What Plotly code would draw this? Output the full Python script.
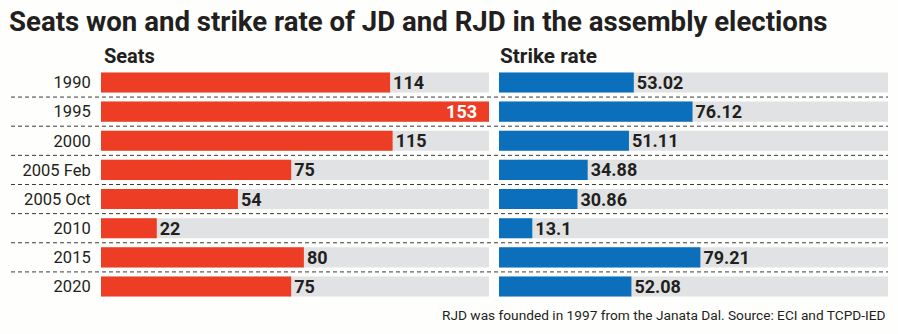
import plotly.graph_objects as go

# ---- data ----
years = ["1990", "1995", "2000", "2005 Feb", "2005 Oct", "2010", "2015", "2020"]
seats = [114, 153, 115, 75, 54, 22, 80, 75]
strike_rate = [53.02, 76.12, 51.11, 34.88, 30.86, 13.1, 79.21, 52.08]
seat_labels = ["114", "153", "115", "75", "54", "22", "80", "75"]
rate_labels = ["53.02", "76.12", "51.11", "34.88", "30.86", "13.1", "79.21", "52.08"]
SEATS_MAX = 153
RATE_MAX = 153

title = "Seats won and strike rate of JD and RJD in the assembly elections"
note = "RJD was founded in 1997 from the Janata Dal. Source: ECI and TCPD-IED"

# ---- style ----
W, H = 898, 334
FONT = "Roboto, sans-serif"
DARK = "#231f20"
RED = "#ee3d25"
BLUE = "#0b6fbc"
TRACK = "#e1e2e4"
BG = "#fefefc"
BAR_W = 0.69
ROW0 = 82.5
ROW_STEP = 29.14

top = -ROW0 / ROW_STEP
bottom = top + H / ROW_STEP

fig = go.Figure()

# background tracks
fig.add_trace(go.Bar(y=years, x=[SEATS_MAX] * len(years), orientation="h",
                     marker=dict(color=TRACK, line=dict(width=0)), width=BAR_W,
                     hoverinfo="skip", xaxis="x", yaxis="y"))
fig.add_trace(go.Bar(y=years, x=[RATE_MAX] * len(years), orientation="h",
                     marker=dict(color=TRACK, line=dict(width=0)), width=BAR_W,
                     hoverinfo="skip", xaxis="x2", yaxis="y"))

seat_pos = ["inside" if v >= SEATS_MAX else "outside" for v in seats]
seat_txt = [t + "\u00a0\u00a0" if p == "inside" else t for t, p in zip(seat_labels, seat_pos)]

fig.add_trace(go.Bar(y=years, x=seats, orientation="h",
                     marker=dict(color=RED, line=dict(width=0)), width=BAR_W,
                     text=seat_txt, textposition=seat_pos, insidetextanchor="end",
                     constraintext="none", cliponaxis=False,
                     insidetextfont=dict(family=FONT, size=18, color="white", weight="bold"),
                     outsidetextfont=dict(family=FONT, size=18, color=DARK, weight="bold"),
                     xaxis="x", yaxis="y"))
fig.add_trace(go.Bar(y=years, x=strike_rate, orientation="h",
                     marker=dict(color=BLUE, line=dict(width=0)), width=BAR_W,
                     text=rate_labels, textposition="outside",
                     constraintext="none", cliponaxis=False,
                     outsidetextfont=dict(family=FONT, size=18, color=DARK, weight="bold"),
                     xaxis="x2", yaxis="y"))

# dashed separators
shapes = []
for i in range(len(years) - 1):
    shapes.append(dict(type="line", xref="paper", yref="y", x0=11 / W, x1=888 / W,
                       y0=i + 0.5, y1=i + 0.5,
                       line=dict(color="#3a3a3a", width=1, dash="4px,3px")))

annotations = [
    dict(text=title, x=7 / W, y=1 - 21 / H, xref="paper", yref="paper",
         xanchor="left", yanchor="middle", showarrow=False,
         font=dict(family=FONT, size=27.6, color=DARK, weight="bold")),
    dict(text="Seats", x=102 / W, y=1 - 56 / H, xref="paper", yref="paper",
         xanchor="left", yanchor="middle", showarrow=False,
         font=dict(family=FONT, size=20, color=DARK, weight="bold")),
    dict(text="Strike rate", x=498 / W, y=1 - 56 / H, xref="paper", yref="paper",
         xanchor="left", yanchor="middle", showarrow=False,
         font=dict(family=FONT, size=20.8, color=DARK, weight="bold")),
    dict(text=note, x=888 / W, y=1 - 315 / H, xref="paper", yref="paper",
         xanchor="right", yanchor="middle", showarrow=False,
         font=dict(family=FONT, size=13.7, color=DARK)),
]

fig.update_layout(
    width=W, height=H, margin=dict(l=0, r=0, t=0, b=0),
    paper_bgcolor=BG, plot_bgcolor=BG, showlegend=False, barmode="overlay",
    xaxis=dict(domain=[101 / W, 489 / W], range=[0, SEATS_MAX], visible=False, fixedrange=True),
    xaxis2=dict(domain=[499 / W, 888 / W], range=[0, RATE_MAX], visible=False,
                anchor="y", fixedrange=True),
    yaxis=dict(type="category", categoryorder="array", categoryarray=years,
               range=[bottom, top], showgrid=False, zeroline=False, showline=False,
               ticks="outside", ticklen=6, tickcolor="rgba(0,0,0,0)",
               tickfont=dict(family=FONT, size=16.5, color=DARK), fixedrange=True),
    shapes=shapes, annotations=annotations,
)

fig.write_html("out.html")
